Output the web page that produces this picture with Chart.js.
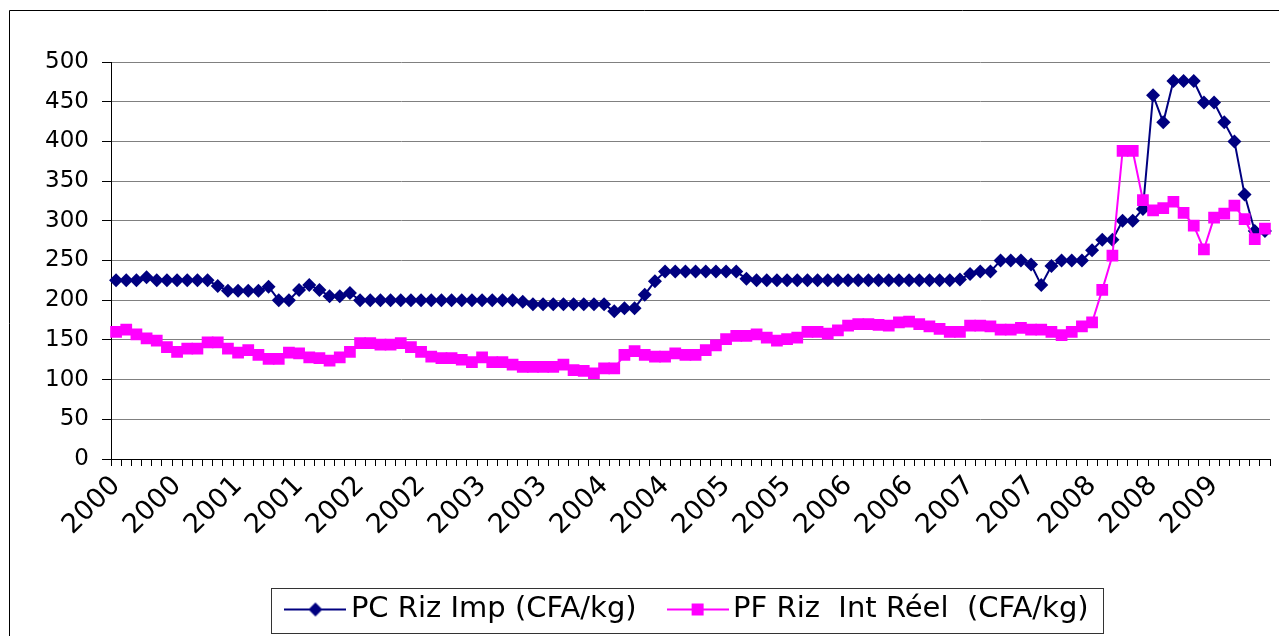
<!DOCTYPE html>
<html><head><meta charset="utf-8">
<script src="https://cdn.jsdelivr.net/npm/chart.js@4.4.0/dist/chart.umd.min.js"></script>
<style>html,body{margin:0;padding:0;background:#fff}#wrap{width:1279px;height:636px;position:relative}</style>
</head><body><div id="wrap"><canvas id="c" width="1279" height="636"></canvas></div>
<script>
// Monthly categories, Jan 2000 .. Jun 2009
const categories = [
'2000-01','2000-02','2000-03','2000-04','2000-05','2000-06','2000-07','2000-08','2000-09','2000-10','2000-11','2000-12',
'2001-01','2001-02','2001-03','2001-04','2001-05','2001-06','2001-07','2001-08','2001-09','2001-10','2001-11','2001-12',
'2002-01','2002-02','2002-03','2002-04','2002-05','2002-06','2002-07','2002-08','2002-09','2002-10','2002-11','2002-12',
'2003-01','2003-02','2003-03','2003-04','2003-05','2003-06','2003-07','2003-08','2003-09','2003-10','2003-11','2003-12',
'2004-01','2004-02','2004-03','2004-04','2004-05','2004-06','2004-07','2004-08','2004-09','2004-10','2004-11','2004-12',
'2005-01','2005-02','2005-03','2005-04','2005-05','2005-06','2005-07','2005-08','2005-09','2005-10','2005-11','2005-12',
'2006-01','2006-02','2006-03','2006-04','2006-05','2006-06','2006-07','2006-08','2006-09','2006-10','2006-11','2006-12',
'2007-01','2007-02','2007-03','2007-04','2007-05','2007-06','2007-07','2007-08','2007-09','2007-10','2007-11','2007-12',
'2008-01','2008-02','2008-03','2008-04','2008-05','2008-06','2008-07','2008-08','2008-09','2008-10','2008-11','2008-12',
'2009-01','2009-02','2009-03','2009-04','2009-05','2009-06'
];
// Tick labels shown every 6 months
const tickLabels = ['2000','2000','2001','2001','2002','2002','2003','2003','2004','2004','2005','2005','2006','2006','2007','2007','2008','2008','2009'];
const seriesNames = ['PC Riz Imp (CFA/kg)', 'PF Riz  Int Réel  (CFA/kg)'];
const pcRizImp = [
225,225,225,229,225,225,225,225,225,225,218,212,
212,212,212,217,200,200,213,219,213,205,205,209,
200,200,200,200,200,200,200,200,200,200,200,200,
200,200,200,200,198,195,195,195,195,195,195,195,
195,186,190,190,207,224,236,236,236,236,236,236,
236,236,227,225,225,225,225,225,225,225,225,225,
225,225,225,225,225,225,225,225,225,225,225,226,
233,236,236,250,250,250,245,219,243,250,250,250,
263,276,276,300,300,315,458,424,476,476,476,449,
449,424,400,333,287,287
];
const pfRizIntReel = [
160,163,157,152,149,141,135,139,139,147,147,139,
134,137,131,126,126,134,133,128,127,124,128,135,
146,146,144,144,146,141,135,129,127,127,125,122,
128,122,122,119,116,116,116,116,119,112,111,108,
114,114,131,136,131,129,129,133,131,131,137,143,
151,155,155,157,153,149,151,153,160,160,158,162,
168,170,170,169,168,172,173,170,167,164,160,160,
168,168,167,163,163,165,163,163,160,156,160,167,
172,213,256,388,388,326,313,316,324,310,294,264,
304,309,319,302,277,290
];
const BLUE = '#000080', PINK = '#FF00FF';
const FONT = 'DejaVu Sans';
const ICON_W = 62, ICON_BOX = 42;

function legendIcon(color, shape, r) {
  const c = document.createElement('canvas');
  c.width = ICON_W; c.height = 22;
  const g = c.getContext('2d');
  g.strokeStyle = color; g.lineWidth = 2;
  g.beginPath(); g.moveTo(0, 11); g.lineTo(ICON_W, 11); g.stroke();
  g.fillStyle = color;
  const cx = ICON_W / 2;
  if (shape === 'diamond') {
    g.beginPath(); g.moveTo(cx, 11 - r); g.lineTo(cx + r, 11); g.lineTo(cx, 11 + r); g.lineTo(cx - r, 11); g.closePath(); g.fill();
  } else {
    g.fillRect(cx - r, 11 - r, 2 * r, 2 * r);
  }
  return c;
}
const icons = [legendIcon(BLUE, 'diamond', 7), legendIcon(PINK, 'square', 6)];

const framePlugin = {
  id: 'frame',
  afterLayout(chart) {
    const lg = chart.legend, ca = chart.chartArea;
    const dx = (ca.left + ca.right) / 2 + 1 - (lg.left + lg.right) / 2;
    lg.left += dx; lg.right += dx;
  },
  beforeDraw(chart) {
    const ctx = chart.ctx;
    ctx.save();
    ctx.fillStyle = '#fff';
    ctx.fillRect(0, 0, chart.width, chart.height);
    ctx.restore();
  },
  afterDraw(chart) {
    const ctx = chart.ctx, lg = chart.legend;
    ctx.save();
    ctx.strokeStyle = '#000'; ctx.lineWidth = 1;
    ctx.beginPath();
    ctx.moveTo(9.5, chart.height + 5); ctx.lineTo(9.5, 10.5); ctx.lineTo(chart.width + 5, 10.5);
    ctx.stroke();
    const hb = lg.legendHitBoxes;
    if (hb && hb.length) {
      const last = hb[hb.length - 1];
      const over = (ICON_W - ICON_BOX) / 2;
      const x0 = Math.round(hb[0].left - over - 13) + 0.5;
      const x1 = Math.round(last.left + last.width + 14) + 0.5;
      const cy = hb[0].top + hb[0].height / 2;
      const y0 = Math.round(cy - 22) + 0.5;
      const y1 = Math.round(cy + 23) + 0.5;
      ctx.strokeStyle = '#333';
      ctx.strokeRect(x0, y0, x1 - x0, y1 - y0);
    }
    ctx.restore();
  }
};

new Chart(document.getElementById('c'), {
  type: 'line',
  data: {
    labels: categories,
    datasets: [
      { label: seriesNames[0], data: pcRizImp, borderColor: BLUE, backgroundColor: BLUE,
        borderWidth: 2, pointStyle: 'rectRot', pointRadius: 7, pointBorderWidth: 0,
        pointBackgroundColor: BLUE, pointBorderColor: BLUE, tension: 0, order: 1 },
      { label: seriesNames[1], data: pfRizIntReel, borderColor: PINK, backgroundColor: PINK,
        borderWidth: 2, pointStyle: 'rect', pointRadius: 8.3, pointBorderWidth: 0,
        pointBackgroundColor: PINK, pointBorderColor: PINK, tension: 0, order: 0 }
    ]
  },
  options: {
    responsive: false,
    animation: false,
    devicePixelRatio: 1,
    layout: { padding: { top: 62, left: 20, right: 9, bottom: 2 } },
    plugins: {
      tooltip: { enabled: false },
      legend: {
        position: 'bottom',
        labels: {
          usePointStyle: true,
          pointStyleWidth: ICON_BOX,
          padding: 40,
          color: '#000',
          font: { family: FONT, size: 29 },
          sort: (a, b) => a.datasetIndex - b.datasetIndex,
          generateLabels(chart) {
            return chart.data.datasets.map((ds, i) => ({
              text: ds.label, datasetIndex: i, pointStyle: icons[i],
              fillStyle: ds.borderColor, strokeStyle: ds.borderColor, lineWidth: 0, hidden: false, fontColor: '#000'
            }));
          }
        }
      }
    },
    scales: {
      x: {
        offset: true,
        afterFit(scale) { scale.height = 96; scale.paddingLeft = 0; scale.paddingRight = 0; },
        grid: { offset: true, drawOnChartArea: false, drawTicks: true, tickLength: 7, color: '#000', tickColor: '#000' },
        border: { color: '#000', width: 1 },
        ticks: {
          autoSkip: false, maxRotation: 45, minRotation: 45, padding: 4,
          color: '#000', font: { family: FONT, size: 27 },
          callback: (v, i) => (i % 6 === 0 ? tickLabels[i / 6] : '')
        }
      },
      y: {
        min: 0, max: 500,
        afterFit(scale) { scale.width = 91; },
        grid: { color: '#808080', tickColor: '#000', tickLength: 9, drawTicks: true },
        border: { color: '#000', width: 1 },
        ticks: { stepSize: 50, padding: 13, color: '#000', font: { family: FONT, size: 23 } }
      }
    }
  },
  plugins: [framePlugin]
});
</script>
</body></html>
